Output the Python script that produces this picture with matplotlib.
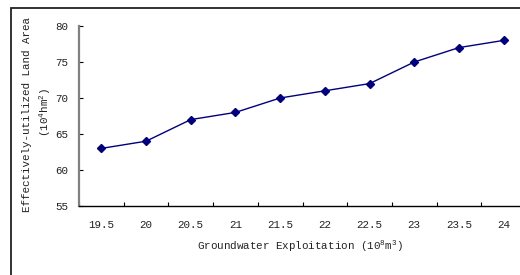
import matplotlib
matplotlib.use("Agg")
import matplotlib.pyplot as plt
from matplotlib.patches import Rectangle
from matplotlib.ticker import FixedLocator, NullFormatter

categories = ["19.5", "20", "20.5", "21", "21.5", "22", "22.5", "23", "23.5", "24"]
land_area = [63, 64, 67, 68, 70, 71, 72, 75, 77, 78]
y_ticks = [55, 60, 65, 70, 75, 80]

plt.rcParams['font.family'] = ['Liberation Mono', 'DejaVu Sans']
plt.rcParams['mathtext.default'] = 'regular'

W, H = 520, 275
fig = plt.figure(figsize=(W / 100, H / 100), dpi=100)
fig.patch.set_facecolor('white')

# outer chart frame (extends beyond the visible area on right/bottom)
fig.patches.append(Rectangle((11 / W, -0.1), 1.2, 1 - 7.5 / H + 0.1,
                             transform=fig.transFigure, fill=False,
                             edgecolor='#222222', linewidth=1.3))

left, bottom = 79 / W, 1 - 206 / H
ax = fig.add_axes([left, bottom, 447 / W, 180 / H])
x = list(range(len(categories)))
ax.plot(x, land_area, color='#000080', linewidth=1.0, marker='D',
        markersize=3.8, markerfacecolor='#000080', markeredgecolor='#000080')

ax.set_xlim(-0.5, len(categories) - 0.5)
ax.set_ylim(55, 80)
ax.set_yticks(y_ticks)
ax.set_xticks(x)
ax.set_xticklabels(categories)
ax.xaxis.set_minor_locator(FixedLocator([i + 0.5 for i in range(-1, len(categories))]))
ax.xaxis.set_minor_formatter(NullFormatter())

for s in ['top', 'right']:
    ax.spines[s].set_visible(False)
ax.spines['left'].set_color('#808080')
ax.spines['left'].set_linewidth(1.6)
ax.spines['bottom'].set_color('black')
ax.spines['bottom'].set_linewidth(1.0)

ax.tick_params(axis='x', which='major', length=0, pad=10, labelsize=7.8, colors='#222222')
ax.tick_params(axis='x', which='minor', direction='in', length=3, width=0.8, color='black')
ax.tick_params(axis='y', direction='in', length=3, width=0.8, color='black',
               pad=8, labelsize=7.8, labelcolor='#222222')

fig.text(300 / W, 1 - 246 / H, 'Groundwater Exploitation (10$^{8}$m$^{3}$)',
         ha='center', va='center', fontsize=7.8, color='#222222')
fig.text(27 / W, 1 - 115 / H, 'Effectively-utilized Land Area',
         ha='center', va='center', rotation=90, fontsize=7.8, color='#222222')
fig.text(45 / W, 1 - 112 / H, '(10$^{4}$hm$^{2}$)',
         ha='center', va='center', rotation=90, fontsize=7.8, color='#222222')

fig.savefig('out.png', dpi=100, facecolor='white')
